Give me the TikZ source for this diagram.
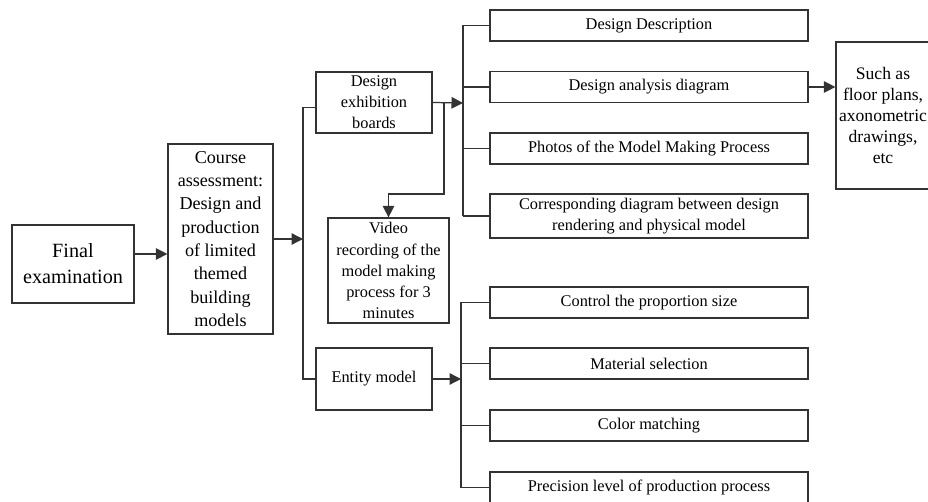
\documentclass[tikz,border=0pt]{standalone}
\usepackage{fontspec}
\setmainfont{Liberation Serif}
\usetikzlibrary{arrows.meta, positioning}

\begin{document}
\begin{tikzpicture}[
  x=0.02cm, y=-0.02cm,
  box/.style={draw=black!80, line width=0.7pt, align=center, inner sep=1pt, font=\fontsize{9.3}{12}\selectfont},
  wbox/.style={box, minimum width=6.36cm, minimum height=0.62cm},
  link/.style={draw=black!80, line width=0.7pt},
  arr/.style={link, -{Triangle[length=2.3mm, width=2.3mm]}}
]
  \useasboundingbox (0,0) rectangle (928,502);

  % left column
  \node[box, minimum width=2.44cm, minimum height=1.56cm, font=\fontsize{11.5}{14.7}\selectfont] (final) at (73,264) {Final\\examination};
  \node[box, minimum width=2.1cm, minimum height=3.8cm, font=\fontsize{10.3}{13.3}\selectfont] (course) at (220.5,239) {Course\\assessment:\\Design and\\production\\of limited\\themed\\building\\models};

  % middle column
  \node[box, minimum width=2.32cm, minimum height=1.22cm] (exhib) at (374,102.5) {Design\\exhibition\\boards};
  \node[box, minimum width=2.42cm, minimum height=2.1cm] (video) at (388.5,270.5) {Video\\recording of the\\model making\\process for 3\\minutes};
  \node[box, minimum width=2.32cm, minimum height=1.24cm] (entity) at (374,379) {Entity model};

  % right column, boards
  \node[wbox] (desc) at (649,25.5) {Design Description};
  \node[wbox] (anal) at (649,87) {Design analysis diagram};
  \node[wbox] (photo) at (649,148.5) {Photos of the Model Making Process};
  \node[wbox, minimum height=0.88cm] (corr) at (649,216) {Corresponding diagram between design\\rendering and physical model};
  \node[box, minimum width=1.88cm, minimum height=2.94cm, font=\fontsize{10}{12}\selectfont] (such) at (883,115.5) {Such as\\floor plans,\\axonometric\\drawings,\\etc};

  % right column, model
  \node[wbox] (ctrl) at (649,302.5) {Control the proportion size};
  \node[wbox] (mat) at (649,363.5) {Material selection};
  \node[wbox] (col) at (649,425.5) {Color matching};
  \node[wbox] (prec) at (649,487.5) {Precision level of production process};

  % bus points
  \coordinate (trunk) at (303,239);
  \coordinate (busA) at (463,103);
  \coordinate (busB) at (461,379);
  \coordinate (vidA) at (444,103);
  \coordinate (vidB) at (444,194);

  % connectors
  \draw[arr] ([yshift=5.7pt]final.east) -- ([yshift=5.7pt]final.east -| course.west);
  \draw[arr] (course.east) -- (trunk);
  \draw[link] ([yshift=-3pt]exhib.west) -| (trunk) |- (entity.west);

  \draw[arr] (exhib.east) -- (busA);
  \draw[link] (busA |- desc.west) -- (busA |- corr.west);
  \foreach \n in {desc, anal, photo, corr}
    \draw[link] (busA |- \n.west) -- (\n.west);
  \draw[arr] (vidA) -- (vidB) -| (video.north);
  \draw[arr] (anal.east) -- (anal.east -| such.west);

  \draw[arr] (entity.east) -- (busB);
  \draw[link] (busB |- ctrl.west) -- (busB |- prec.west);
  \foreach \n in {ctrl, mat, col, prec}
    \draw[link] (busB |- \n.west) -- (\n.west);
\end{tikzpicture}
\end{document}
